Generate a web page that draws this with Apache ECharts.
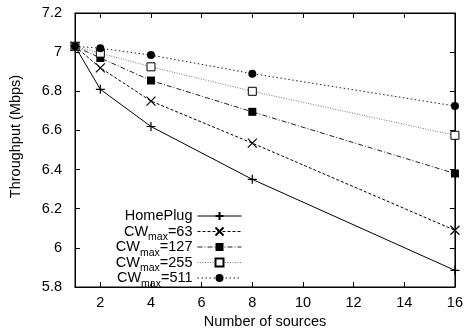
<!DOCTYPE html>
<html>
<head>
<meta charset="utf-8">
<script src="https://cdn.jsdelivr.net/npm/echarts@6/dist/echarts.min.js"></script>
<style>
  html, body { margin: 0; padding: 0; background: #fff; }
  #chart { width: 466px; height: 336px; }
</style>
</head>
<body>
<div id="chart"></div>
<script>
// 数据
const sources = [1, 2, 4, 8, 16];
const homePlug = [7.03, 6.81, 6.62, 6.35, 5.885];
const cw63 = [7.03, 6.92, 6.75, 6.535, 6.09];
const cw127 = [7.03, 6.97, 6.855, 6.695, 6.38];
const cw255 = [7.03, 6.995, 6.925, 6.8, 6.575];
const cw511 = [7.03, 7.02, 6.985, 6.89, 6.725];
const xTicks = [2, 4, 6, 8, 10, 12, 14, 16];

const FONT = 'Liberation Sans, Arial, sans-serif';
const FS = 14.5;
const plusPath = 'path://M0,5L10,5M5,0L5,10';
const crossPath = 'path://M0,0L10,10M10,0L0,10';

function pairs(ys) {
  return sources.map((x, i) => [x, ys[i]]);
}

function makeSeries(name, ys, symbol, size, dash, color, fill, bw) {
  return {
    name: name,
    type: 'line',
    data: pairs(ys),
    symbol: symbol,
    symbolSize: size,
    showAllSymbol: true,
    lineStyle: { color: color, width: 1, type: dash },
    itemStyle: { color: fill, borderColor: '#000', borderWidth: bw, opacity: 1 },
    emphasis: { disabled: true },
    animation: false
  };
}

const chart = echarts.init(document.getElementById('chart'));

const tickStyle = { show: true, inside: true, length: 5, lineStyle: { color: '#000' } };
const lineStyle = { show: true, lineStyle: { color: '#000', width: 1 } };

const options = {
  backgroundColor: '#fff',
  animation: false,
  grid: { left: 75, right: 10, top: 13, bottom: 49, show: true, borderColor: '#000', borderWidth: 1 },
  legend: {
    orient: 'vertical',
    align: 'right',
    right: 224,
    top: 204.5,
    itemWidth: 44,
    itemHeight: 10,
    itemGap: -7.5,
    padding: 0,
    selectedMode: false,
    lineStyle: { width: 1 },
    formatter: function (name) {
      if (name === 'HomePlug') return '{n|HomePlug}{s|\u200b}';
      return '{n|CW}{s|max}{n|=' + name.split('=')[1] + '}';
    },
    textStyle: {
      fontFamily: FONT,
      fontSize: FS,
      color: '#000',
      rich: {
        n: { fontFamily: FONT, fontSize: FS, lineHeight: 16, color: '#000' },
        s: { fontFamily: FONT, fontSize: 10.5, lineHeight: 4, padding: [12, 0, 0, 0], color: '#000' }
      }
    },
    data: ['HomePlug', 'CWmax=63', 'CWmax=127', 'CWmax=255', 'CWmax=511']
  },
  xAxis: [
    {
      type: 'value',
      min: 1,
      max: 16,
      name: 'Number of sources',
      nameLocation: 'middle',
      nameGap: 27,
      nameTextStyle: { fontFamily: FONT, fontSize: FS, color: '#000' },
      axisLine: lineStyle,
      axisTick: Object.assign({ customValues: xTicks }, tickStyle),
      axisLabel: { customValues: xTicks, fontFamily: FONT, fontSize: FS, color: '#000', margin: 8 },
      splitLine: { show: false }
    },
    {
      type: 'value',
      position: 'top',
      min: 1,
      max: 16,
      axisLine: lineStyle,
      axisTick: Object.assign({ customValues: xTicks }, tickStyle),
      axisLabel: { show: false },
      splitLine: { show: false }
    }
  ],
  yAxis: [
    {
      type: 'value',
      min: 5.8,
      max: 7.2,
      interval: 0.2,
      name: 'Throughput (Mbps)',
      nameLocation: 'middle',
      nameGap: 52,
      nameTextStyle: { fontFamily: FONT, fontSize: FS, color: '#000', padding: [0, 0, 0, 27] },
      axisLine: lineStyle,
      axisTick: tickStyle,
      axisLabel: { fontFamily: FONT, fontSize: FS, color: '#000', margin: 13 },
      splitLine: { show: false }
    },
    {
      type: 'value',
      position: 'right',
      min: 5.8,
      max: 7.2,
      interval: 0.2,
      axisLine: lineStyle,
      axisTick: tickStyle,
      axisLabel: { show: false },
      splitLine: { show: false }
    }
  ],
  series: [
    makeSeries('HomePlug', homePlug, plusPath, 9, 'solid', '#000', '#000', 1.2),
    makeSeries('CWmax=63', cw63, crossPath, 9, [3, 2], '#000', '#000', 1.2),
    makeSeries('CWmax=127', cw127, 'rect', 8, [5, 2, 1, 2], '#222', '#000', 0),
    makeSeries('CWmax=255', cw255, 'rect', 8, [1, 1.5], '#777', '#fff', 1),
    makeSeries('CWmax=511', cw511, 'circle', 8, [1.5, 2.5], '#222', '#000', 0)
  ]
};

chart.setOption(options);
</script>
</body>
</html>
